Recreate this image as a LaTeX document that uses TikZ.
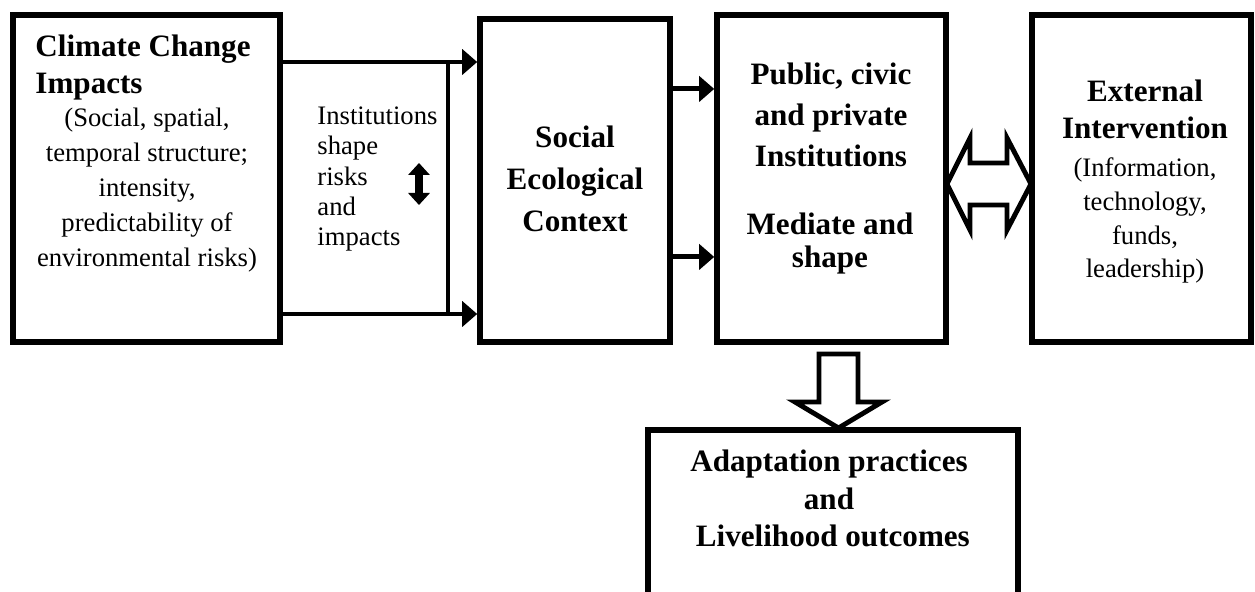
\documentclass[tikz,border=0pt]{standalone}
\usepackage{fontspec}
\setmainfont{Liberation Serif}
\usetikzlibrary{arrows.meta}

\begin{document}
\begin{tikzpicture}[
 x=0.45pt, y=-0.45pt,
 box/.style={draw,line width=2.5pt,inner sep=0pt},
 head/.style={font=\fontsize{14}{#1}\selectfont\bfseries,inner sep=0pt},
 body/.style={font=\fontsize{12}{#1}\selectfont,inner sep=0pt},
 link/.style={line width=2.2pt,-{Triangle[length=6.75pt,width=11.25pt]}},
 hollow/.style={line width=2.2pt,line join=miter},
 shaperisk/.style={line width=3.6pt,{Triangle[length=5.4pt,width=9.5pt]}-{Triangle[length=5.4pt,width=9.5pt]}},
]
\useasboundingbox (0,0) rectangle (1255,592);
\clip (0,0) rectangle (1255,592);

% Boxes
\node[box,minimum width=120.15pt,minimum height=147.15pt] (climate) at (146.5,178.5) {};
\node[box,minimum width=85.5pt,minimum height=145.35pt] (context) at (575,180.5) {};
\node[box,minimum width=103.05pt,minimum height=147.15pt] (inst) at (831.5,178.5) {};
\node[box,minimum width=98.55pt,minimum height=147.15pt] (external) at (1141.5,178.5) {};
\node[box,minimum width=166.5pt,minimum height=85.5pt] (outcome) at (833,525) {};

% Texts (base = last line)
\node[head=16.65pt,align=left,anchor=base west] (climatehead) at (35,94) {Climate Change\\Impacts};
\node[body=15.75pt,align=center,anchor=base] (climatebody) at (147,267)
    {(Social, spatial,\\temporal structure;\\intensity,\\predictability of\\environmental risks)};
\node[body=13.7pt,align=left,anchor=base west] (shaperisks) at (317,246) {Institutions\\shape\\risks\\and\\impacts};
\node[head=19.1pt,align=center,anchor=base] (contexthead) at (575,232) {Social\\Ecological\\Context};
\node[head=18.45pt,align=center,anchor=base] (insthead) at (831,167) {Public, civic\\and private\\Institutions};
\node[head=14.85pt,align=center,anchor=base] (instbody) at (830,268) {Mediate and\\shape};
\node[head=16.65pt,align=center,anchor=base] (externalhead) at (1145,139) {External\\Intervention};
\node[body=15.2pt,align=center,anchor=base] (externalbody) at (1145,278)
    {(Information,\\technology,\\funds,\\leadership)};
\node[head=16.9pt,align=center,anchor=base] (outcomehead) at (829,547)
    {Adaptation practices\\and\\\ Livelihood outcomes};

% Climate impacts to context, through institutions
\coordinate (splittop) at (448,62);
\coordinate (splitbot) at (448,314);
\foreach \c in {top,bot}
    \draw[link] (climate.east |- split\c) -- (context.west |- split\c);
\draw[line width=2.2pt] (splittop) -- (splitbot);
\coordinate (riskup) at (419,163);
\coordinate (riskdown) at (419,205);
\draw[shaperisk] (riskup) -- (riskdown);

% Context to institutions
\foreach \i/\dy in {1/41.2pt,2/-34.4pt} {
    \coordinate (mid\i) at ([yshift=\dy] context.east);
    \draw[link] (mid\i) -- (mid\i -| inst.west);
}

% Institutions and external intervention
\draw[hollow] (947,184) -- (970,138) -- (970,163) -- (1007,163) -- (1007,138) -- (1031,184)
    -- (1007,230) -- (1007,205) -- (970,205) -- (970,230) -- cycle;

% Institutions to outcomes
\draw[hollow] (819,354) -- (858,354) -- (858,402) -- (882,402) -- (838.5,428)
    -- (795,402) -- (819,402) -- cycle;

\end{tikzpicture}
\end{document}
